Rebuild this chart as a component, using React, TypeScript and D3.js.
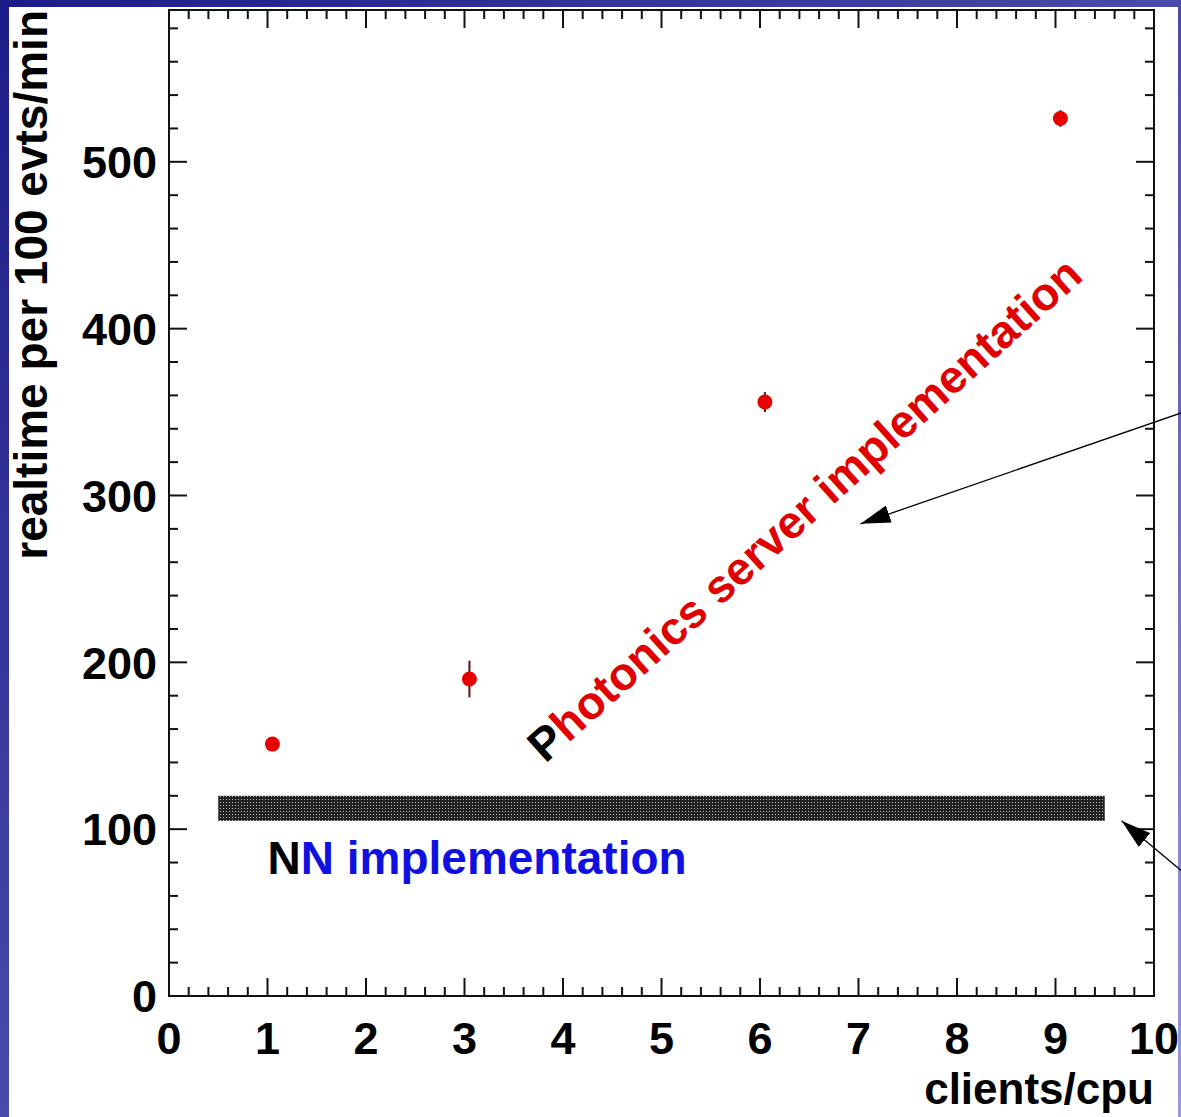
import React, { useEffect, useRef } from "react";
import * as d3 from "d3";

// measured points: clients per cpu vs realtime per 100 events
const clients = [1.05, 3.05, 6.05, 9.05];
const realtime = [151, 190, 356, 526];
const realtimeErr = [3, 11, 6, 5];

const xTicks = [0, 1, 2, 3, 4, 5, 6, 7, 8, 9, 10];
const yTicks = [0, 100, 200, 300, 400, 500];

// NN implementation band
const nnX = [0.5, 9.5];
const nnY = [105, 120];

// annotation arrows (start -> tip), data units
const arrowFromX = [10.3, 10.3];
const arrowFromY = [350, 74];
const arrowToX = [7.02, 9.67];
const arrowToY = [283, 105];

const W = 1181;
const H = 1117;

function App() {
  const ref = useRef<SVGSVGElement>(null);

  useEffect(() => {
    document.body.style.margin = "0";
    drawChart();
  });

  const drawChart = () => {
    const svg = d3.select(ref.current);
    svg.selectAll("*").remove();

    const margin = { top: 10, left: 169, right: 27, bottom: 121 };
    const x = d3.scaleLinear().domain([0, 10]).range([margin.left, W - margin.right]);
    const y = d3.scaleLinear().domain([0, 591]).range([H - margin.bottom, margin.top]);

    const defs = svg.append("defs");
    const grad = defs
      .append("linearGradient")
      .attr("id", "slide")
      .attr("x1", "0")
      .attr("y1", "0")
      .attr("x2", "1")
      .attr("y2", "1");
    grad.append("stop").attr("offset", "0").attr("stop-color", "#1c1c88");
    grad.append("stop").attr("offset", "0.5").attr("stop-color", "#4a4aa8");
    grad.append("stop").attr("offset", "1").attr("stop-color", "#9a9ad4");

    const pat = defs
      .append("pattern")
      .attr("id", "hatch")
      .attr("patternUnits", "userSpaceOnUse")
      .attr("width", 3)
      .attr("height", 3);
    pat.append("rect").attr("width", 3).attr("height", 3).attr("fill", "#222");
    pat.append("rect").attr("x", 1).attr("y", 1).attr("width", 1).attr("height", 1).attr("fill", "#bbb");

    const mk = defs
      .append("marker")
      .attr("id", "head")
      .attr("viewBox", "0 0 10 6")
      .attr("refX", 10)
      .attr("refY", 3)
      .attr("markerWidth", 30)
      .attr("markerHeight", 18)
      .attr("markerUnits", "userSpaceOnUse")
      .attr("orient", "auto");
    mk.append("path").attr("d", "M0,0 L10,3 L0,6 Z").attr("fill", "#000");

    // slide background + white panel
    svg.append("rect").attr("width", W).attr("height", H).attr("fill", "url(#slide)");
    svg.append("rect").attr("x", 9).attr("y", 7).attr("width", 1169).attr("height", H - 7).attr("fill", "#fff");

    const x0 = x(0), x1 = x(10), y0 = y(0), y1 = y(591);
    const axisColor = "#111";

    // frame
    svg
      .append("rect")
      .attr("x", x0)
      .attr("y", y1)
      .attr("width", x1 - x0)
      .attr("height", y0 - y1)
      .attr("fill", "none")
      .attr("stroke", axisColor)
      .attr("stroke-width", 2);

    const ticks = svg.append("g").attr("stroke", axisColor).attr("stroke-width", 2);
    const xMinor = d3.range(0, 50).map((i) => i * 0.2).filter((v) => v > 0 && v < 10);
    xMinor.forEach((v) => {
      const major = Math.abs(v - Math.round(v)) < 1e-6;
      const len = major ? 18 : 9;
      ticks.append("line").attr("x1", x(v)).attr("x2", x(v)).attr("y1", y0).attr("y2", y0 - len);
      ticks.append("line").attr("x1", x(v)).attr("x2", x(v)).attr("y1", y1).attr("y2", y1 + len);
    });
    const yMinor = d3.range(1, 30).map((i) => i * 20);
    yMinor.forEach((v) => {
      const major = v % 100 === 0;
      const len = major ? 18 : 9;
      ticks.append("line").attr("x1", x0).attr("x2", x0 + len).attr("y1", y(v)).attr("y2", y(v));
      ticks.append("line").attr("x1", x1).attr("x2", x1 - len).attr("y1", y(v)).attr("y2", y(v));
    });

    const font = "'Liberation Sans', Arial, sans-serif";

    svg
      .append("g")
      .selectAll("text")
      .data(xTicks)
      .join("text")
      .attr("x", (d) => x(d))
      .attr("y", y0 + 58)
      .attr("text-anchor", "middle")
      .attr("font-family", font)
      .attr("font-weight", "bold")
      .attr("font-size", 45)
      .text((d) => d);

    svg
      .append("g")
      .selectAll("text")
      .data(yTicks)
      .join("text")
      .attr("x", x0 - 12)
      .attr("y", (d) => y(d))
      .attr("dy", "0.36em")
      .attr("text-anchor", "end")
      .attr("font-family", font)
      .attr("font-weight", "bold")
      .attr("font-size", 45)
      .text((d) => d);

    svg
      .append("text")
      .attr("x", x1)
      .attr("y", y0 + 108)
      .attr("text-anchor", "end")
      .attr("font-family", font)
      .attr("font-weight", "bold")
      .attr("font-size", 44)
      .text("clients/cpu");

    svg
      .append("text")
      .attr("transform", "translate(47," + y1 + ") rotate(-90)")
      .attr("text-anchor", "end")
      .attr("font-family", font)
      .attr("font-weight", "bold")
      .attr("font-size", 46)
      .text("realtime per 100 evts/min");

    // NN band
    svg
      .append("rect")
      .attr("x", x(nnX[0]))
      .attr("y", y(nnY[1]))
      .attr("width", x(nnX[1]) - x(nnX[0]))
      .attr("height", y(nnY[0]) - y(nnY[1]))
      .attr("fill", "url(#hatch)");

    const nn = svg
      .append("text")
      .attr("x", x(1.0))
      .attr("y", y(73))
      .attr("font-family", font)
      .attr("font-weight", "bold")
      .attr("font-size", 46);
    nn.append("tspan").attr("fill", "#000").text("N");
    nn.append("tspan").attr("fill", "#1010e0").text("N implementation");

    const ph = svg
      .append("text")
      .attr("transform", "translate(" + x(3.82) + "," + y(139) + ") rotate(-42)")
      .attr("font-family", font)
      .attr("font-weight", "bold")
      .attr("font-size", 46);
    ph.append("tspan").attr("fill", "#000").text("P");
    ph.append("tspan").attr("fill", "#e00000").text("hotonics server implementation");

    // error bars and markers
    const pts = clients.map((c, i) => ({ c, v: realtime[i], e: realtimeErr[i] }));
    svg
      .append("g")
      .selectAll("line")
      .data(pts)
      .join("line")
      .attr("x1", (d) => x(d.c))
      .attr("x2", (d) => x(d.c))
      .attr("y1", (d) => y(d.v - d.e))
      .attr("y2", (d) => y(d.v + d.e))
      .attr("stroke", "#5a1010")
      .attr("stroke-width", 2);
    svg
      .append("g")
      .selectAll("circle")
      .data(pts)
      .join("circle")
      .attr("cx", (d) => x(d.c))
      .attr("cy", (d) => y(d.v))
      .attr("r", 7.5)
      .attr("fill", "#e80000");

    // arrows
    svg
      .append("g")
      .selectAll("line")
      .data(arrowFromX.map((v, i) => i))
      .join("line")
      .attr("x1", (i) => x(arrowFromX[i]))
      .attr("y1", (i) => y(arrowFromY[i]))
      .attr("x2", (i) => x(arrowToX[i]))
      .attr("y2", (i) => y(arrowToY[i]))
      .attr("stroke", "#000")
      .attr("stroke-width", 1.3)
      .attr("marker-end", "url(#head)");
  };

  return (
    <div style={{ position: "absolute", left: 0, top: 0 }}>
      <svg ref={ref} width={W} height={H} style={{ display: "block" }} />
    </div>
  );
}

export default App;
